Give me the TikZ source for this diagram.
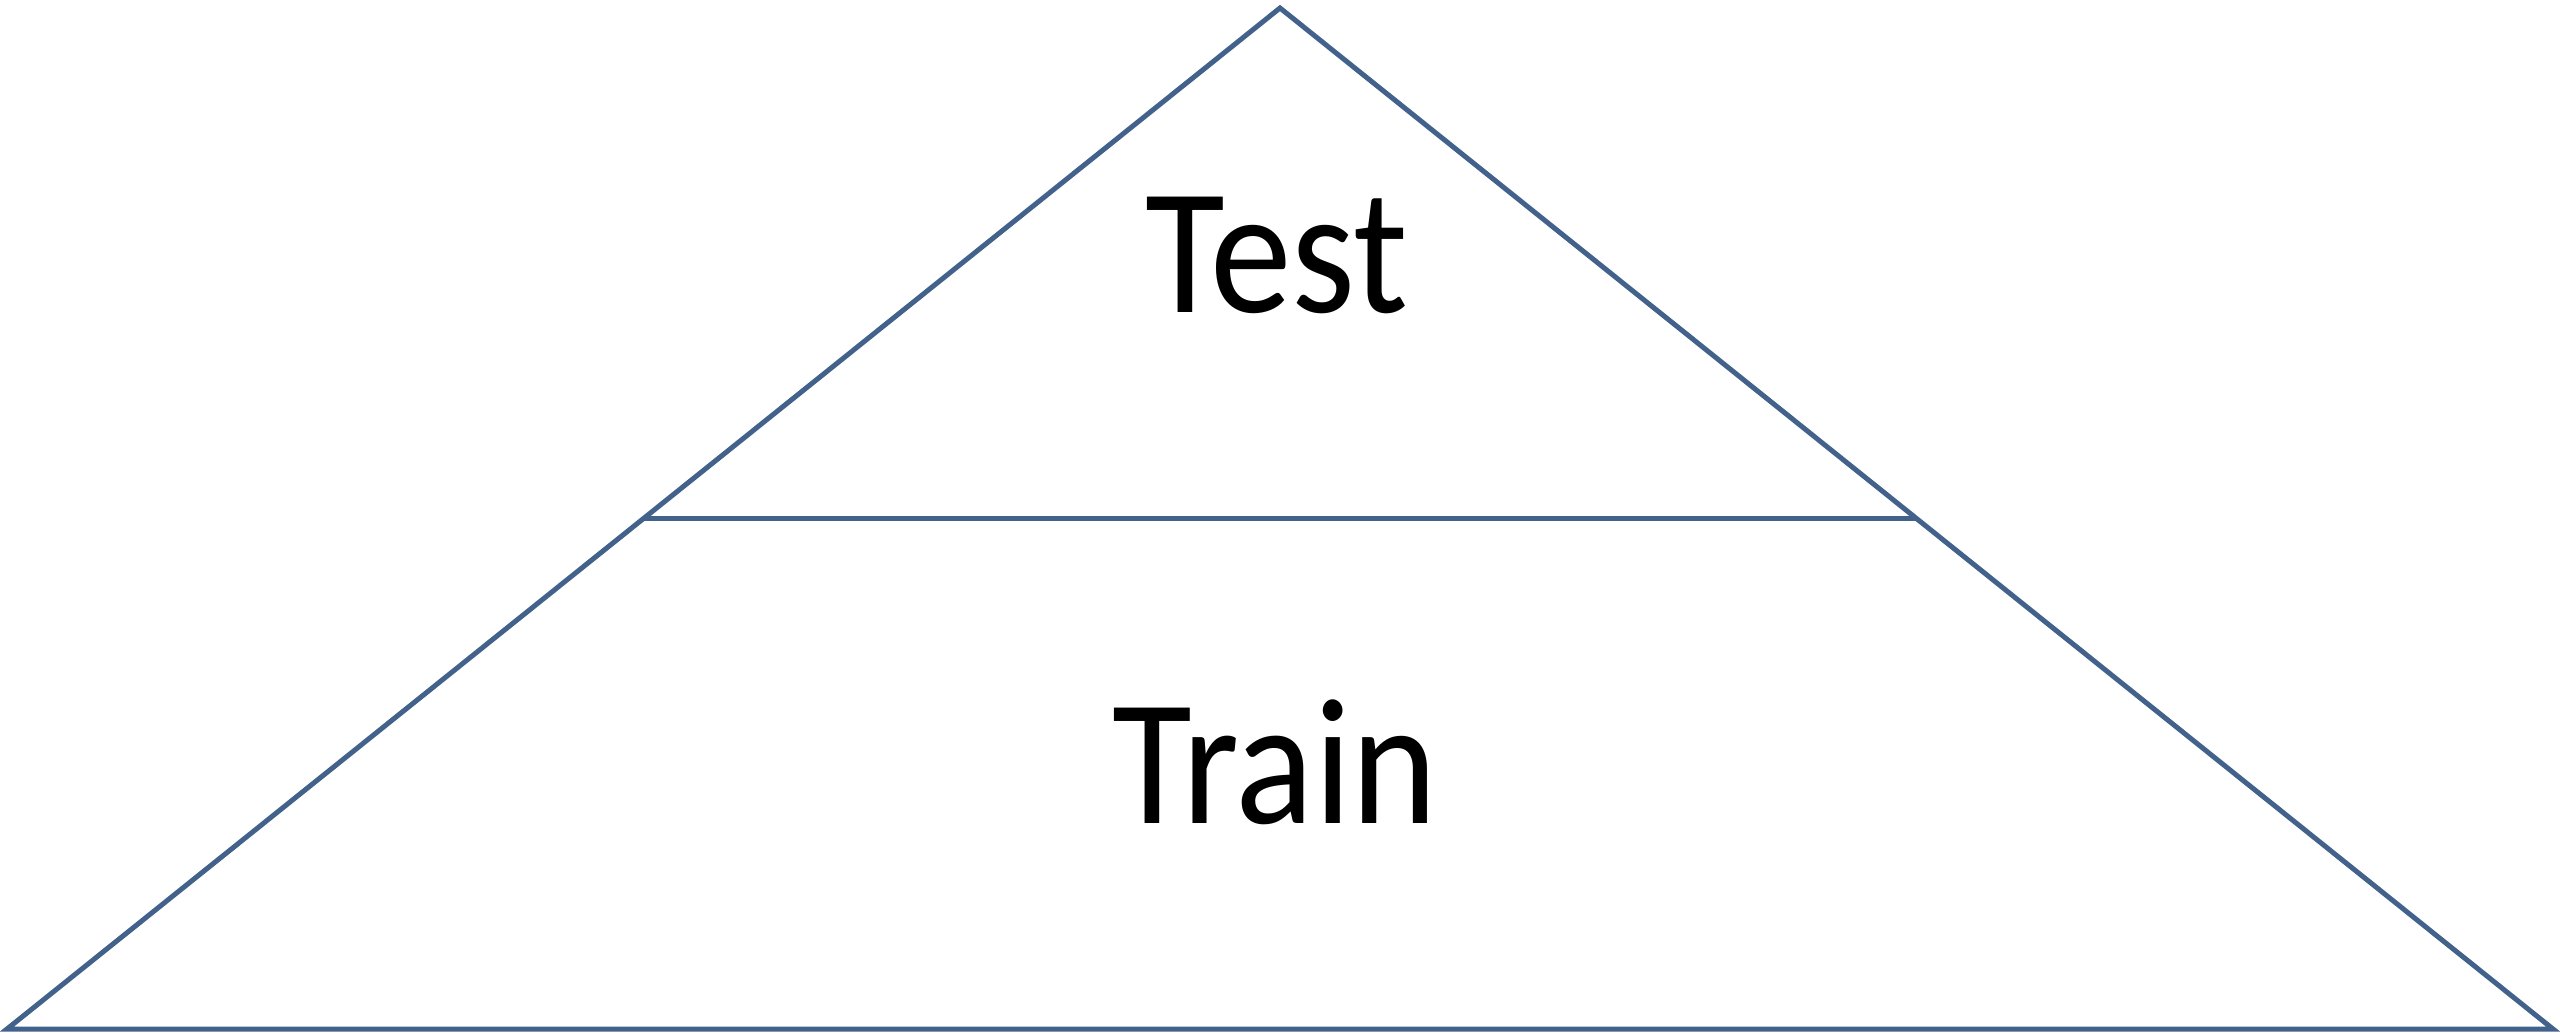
\documentclass[tikz,border=0pt]{standalone}
\usepackage{fontspec}
\setmainfont{Carlito}
\usetikzlibrary{calc}
\definecolor{edgeblue}{RGB}{66,98,139}
\newcommand{\tallword}[1]{\scalebox{1}[1.1]{#1}}
\tikzset{
  edge/.style={draw=edgeblue, line width=1.42pt, line join=miter},
  label/.style={font=\fontsize{46.5pt}{52pt}\selectfont, inner sep=0pt, anchor=base}
}
\begin{document}
\begin{tikzpicture}[x=0.01cm, y=-0.01cm]
\useasboundingbox (0,0) rectangle (2560,1032);
\coordinate (apex) at (1280,8);
\coordinate (bl) at (7,1029);
\coordinate (br) at (2553,1029);
\coordinate (ml) at ($(bl)!0.5!(apex)$);
\coordinate (mr) at ($(br)!0.5!(apex)$);
\draw[edge] (apex) -- (bl) -- (br) -- cycle;
\draw[edge] (ml) -- (mr);
\node[label] (test) at (1277,312) {\tallword{Test}};
\node[label] (train) at (1275,823) {\tallword{Train}};
\end{tikzpicture}
\end{document}
